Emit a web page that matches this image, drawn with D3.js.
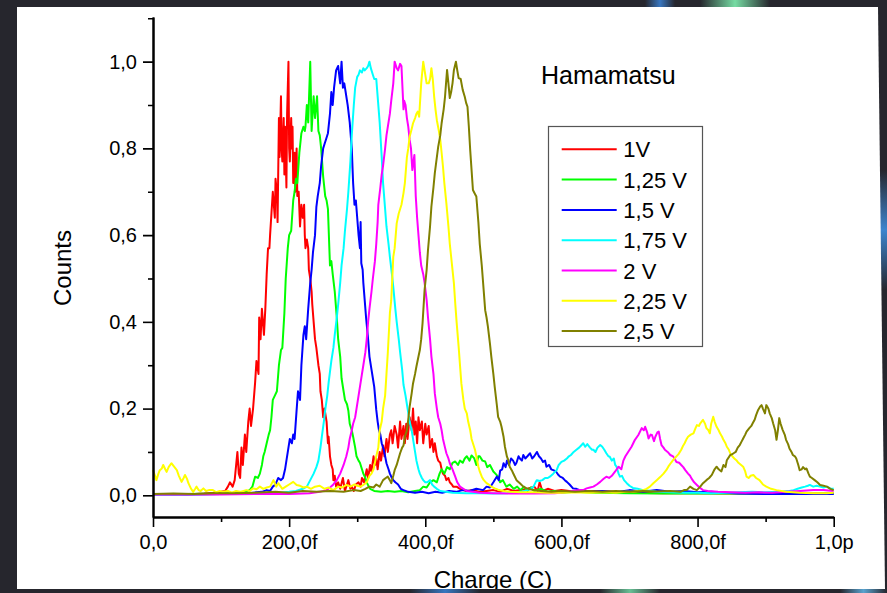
<!DOCTYPE html>
<html><head><meta charset="utf-8">
<script src="https://cdn.jsdelivr.net/npm/d3@7"></script>
<style>html,body{margin:0;padding:0;background:#222228;}svg{display:block;}</style>
</head><body>
<script>
// ---------- DATA ----------
const seriesNames = ["1V", "1,25 V", "1,5 V", "1,75 V", "2 V", "2,25 V", "2,5 V"];
const seriesColors = ["#ff0000", "#00ff00", "#0000ff", "#00ffff", "#ff00ff", "#ffff00", "#808000"];
const xTickValues = [0, 200, 400, 600, 800, 1000];
const xTickLabels = ["0,0", "200,0f", "400,0f", "600,0f", "800,0f", "1,0p"];
const xMinorTicks = [100, 300, 500, 700, 900];
const yTickValues = [0, 0.2, 0.4, 0.6, 0.8, 1.0];
const yTickLabels = ["0,0", "0,2", "0,4", "0,6", "0,8", "1,0"];
const yMinorTicks = [0.1, 0.3, 0.5, 0.7, 0.9, 1.1];

// charge in fC, normalized counts
const data1V = [[0,0.002],[25,0.003],[50,0.002],[75,0.004],[90,0.006],[100,0.008],[106,0.01],[110,0.02],[113,0.03],[117,0.02],[120,0.035],[124,0.10],[126,0.05],[128,0.04],[130,0.11],[132,0.07],[135,0.14],[137,0.10],[140,0.17],[142,0.20],[144,0.16],[147,0.20],[150,0.26],[152,0.31],[155,0.28],[156,0.41],[158,0.36],[160,0.43],[163,0.37],[165,0.43],[167,0.51],[169,0.57],[171,0.57],[172,0.60],[174,0.65],[176,0.70],[178,0.66],[179,0.64],[180,0.73],[182,0.70],[183,0.63],[185,0.87],[186,0.78],[188,0.92],[189,0.80],[190,0.77],[192,0.87],[193,0.74],[194,0.85],[196,0.71],[197,0.88],[199,1.0],[200,0.80],[201,0.77],[203,0.87],[204,0.80],[205,0.85],[206,0.72],[208,0.79],[209,0.70],[211,0.80],[212,0.69],[214,0.70],[216,0.62],[218,0.67],[220,0.64],[222,0.67],[223,0.60],[224,0.57],[226,0.59],[228,0.57],[229,0.52],[231,0.50],[233,0.47],[234,0.44],[236,0.40],[238,0.36],[240,0.34],[243,0.30],[245,0.28],[246,0.24],[248,0.22],[250,0.18],[252,0.20],[255,0.17],[257,0.12],[258,0.135],[260,0.09],[262,0.07],[264,0.06],[265,0.035],[267,0.045],[269,0.02],[272,0.03],[275,0.015],[279,0.04],[282,0.01],[285,0.025],[287,0.035],[290,0.015],[292,0.02],[295,0.01],[298,0.025],[302,0.03],[305,0.02],[307,0.04],[310,0.03],[314,0.06],[316,0.04],[319,0.07],[321,0.055],[324,0.09],[326,0.07],[328,0.085],[330,0.06],[333,0.10],[335,0.08],[338,0.115],[340,0.09],[343,0.13],[345,0.10],[348,0.14],[350,0.15],[352,0.12],[355,0.16],[358,0.14],[360,0.11],[363,0.17],[365,0.13],[368,0.16],[370,0.12],[372,0.165],[374,0.13],[377,0.18],[380,0.15],[382,0.20],[384,0.14],[386,0.17],[388,0.12],[390,0.18],[392,0.15],[395,0.17],[397,0.12],[400,0.165],[402,0.14],[405,0.16],[407,0.11],[410,0.13],[412,0.10],[414,0.12],[417,0.09],[419,0.08],[422,0.075],[424,0.06],[426,0.05],[429,0.045],[431,0.035],[434,0.04],[436,0.03],[439,0.025],[441,0.02],[446,0.02],[451,0.015],[456,0.012],[461,0.01],[470,0.012],[480,0.008],[490,0.01],[500,0.012],[510,0.008],[520,0.015],[530,0.01],[540,0.012],[550,0.015],[560,0.02],[565,0.01],[568,0.03],[572,0.01],[580,0.015],[590,0.01],[600,0.012],[620,0.008],[650,0.01],[680,0.008],[700,0.006],[750,0.005],[800,0.005],[850,0.004],[900,0.005],[950,0.004],[1000,0.004]];

const data125V = [[0,0.003],[50,0.003],[100,0.004],[120,0.006],[135,0.008],[142,0.012],[146,0.02],[150,0.043],[154,0.04],[157,0.05],[160,0.07],[162,0.09],[164,0.10],[167,0.12],[170,0.14],[172,0.15],[174,0.18],[176,0.22],[179,0.23],[182,0.24],[185,0.30],[188,0.335],[190,0.34],[193,0.42],[195,0.50],[198,0.57],[200,0.60],[203,0.61],[206,0.68],[208,0.70],[210,0.73],[212,0.72],[215,0.79],[218,0.835],[221,0.85],[223,0.84],[224,0.85],[226,0.90],[228,0.86],[231,1.0],[233,0.84],[236,0.92],[238,0.87],[241,0.92],[243,0.84],[245,0.83],[247,0.80],[250,0.735],[253,0.69],[255,0.68],[257,0.66],[260,0.53],[262,0.54],[264,0.51],[267,0.47],[270,0.41],[272,0.36],[275,0.32],[277,0.27],[280,0.24],[282,0.22],[285,0.21],[287,0.195],[289,0.165],[292,0.15],[294,0.135],[297,0.11],[299,0.09],[302,0.08],[304,0.075],[307,0.06],[309,0.05],[312,0.04],[314,0.03],[317,0.02],[319,0.015],[325,0.01],[335,0.008],[345,0.01],[355,0.008],[365,0.01],[375,0.007],[385,0.01],[392,0.012],[397,0.02],[402,0.018],[407,0.03],[412,0.035],[417,0.03],[421,0.05],[424,0.06],[428,0.05],[432,0.065],[436,0.06],[440,0.075],[444,0.078],[448,0.07],[451,0.08],[455,0.075],[458,0.085],[461,0.09],[465,0.08],[468,0.092],[472,0.085],[475,0.07],[478,0.09],[480,0.09],[484,0.08],[488,0.078],[491,0.065],[495,0.07],[500,0.055],[503,0.05],[507,0.043],[510,0.03],[514,0.035],[519,0.02],[524,0.025],[530,0.015],[535,0.02],[540,0.012],[545,0.02],[550,0.01],[555,0.018],[560,0.01],[570,0.015],[580,0.008],[590,0.01],[600,0.006],[620,0.008],[650,0.006],[700,0.005],[750,0.004],[800,0.005],[850,0.004],[900,0.004],[950,0.003],[1000,0.004]];

const data15V = [[0,0.002],[50,0.002],[100,0.003],[140,0.005],[160,0.008],[167,0.012],[172,0.01],[176,0.02],[180,0.025],[184,0.04],[188,0.035],[191,0.04],[194,0.06],[196,0.08],[199,0.11],[201,0.13],[204,0.12],[206,0.14],[208,0.13],[211,0.197],[213,0.24],[216,0.22],[218,0.30],[221,0.37],[223,0.39],[225,0.36],[228,0.43],[231,0.49],[233,0.52],[235,0.56],[238,0.60],[240,0.665],[242,0.69],[245,0.72],[247,0.76],[250,0.80],[252,0.81],[254,0.82],[257,0.835],[260,0.88],[262,0.93],[264,0.90],[266,0.94],[269,0.98],[272,0.99],[275,0.95],[277,1.0],[279,0.94],[281,0.95],[283,0.93],[286,0.90],[289,0.86],[292,0.80],[294,0.72],[296,0.67],[298,0.68],[300,0.64],[302,0.60],[304,0.57],[305,0.63],[306,0.535],[308,0.52],[309,0.49],[311,0.45],[313,0.41],[316,0.36],[318,0.32],[321,0.29],[323,0.27],[325,0.25],[328,0.197],[330,0.17],[332,0.15],[334,0.14],[336,0.12],[339,0.105],[341,0.09],[343,0.074],[346,0.06],[348,0.05],[351,0.04],[353,0.035],[356,0.03],[360,0.025],[364,0.015],[368,0.012],[375,0.008],[385,0.006],[395,0.008],[405,0.005],[415,0.008],[425,0.006],[435,0.01],[445,0.008],[455,0.012],[465,0.01],[475,0.015],[485,0.012],[490,0.02],[495,0.018],[500,0.03],[505,0.043],[508,0.035],[510,0.057],[513,0.06],[515,0.074],[518,0.065],[520,0.08],[523,0.07],[526,0.085],[529,0.08],[532,0.07],[534,0.075],[537,0.09],[539,0.085],[542,0.08],[544,0.093],[547,0.085],[550,0.09],[554,0.097],[557,0.085],[560,0.09],[564,0.10],[567,0.09],[570,0.085],[573,0.077],[576,0.08],[578,0.066],[582,0.07],[585,0.06],[588,0.058],[592,0.055],[595,0.048],[598,0.043],[602,0.04],[605,0.035],[608,0.031],[612,0.025],[617,0.016],[622,0.015],[627,0.012],[640,0.008],[660,0.01],[680,0.007],[700,0.012],[720,0.008],[740,0.012],[760,0.008],[780,0.01],[800,0.007],[820,0.008],[840,0.006],[860,0.004],[900,0.003],[950,0.003],[1000,0.003]];

const data175V = [[0,0.002],[50,0.002],[100,0.003],[150,0.004],[180,0.005],[200,0.008],[210,0.01],[220,0.015],[226,0.02],[231,0.035],[236,0.05],[240,0.065],[243,0.08],[246,0.11],[248,0.135],[251,0.17],[253,0.197],[256,0.23],[258,0.26],[260,0.285],[262,0.31],[265,0.34],[267,0.37],[270,0.41],[272,0.44],[275,0.49],[277,0.53],[280,0.57],[282,0.61],[285,0.66],[287,0.70],[290,0.77],[292,0.83],[295,0.90],[297,0.94],[300,0.965],[302,0.97],[304,0.98],[307,0.975],[309,0.985],[311,0.98],[314,0.985],[316,0.99],[318,1.0],[320,0.985],[323,0.97],[325,0.96],[328,0.96],[330,0.92],[333,0.86],[336,0.78],[338,0.72],[340,0.68],[343,0.62],[346,0.58],[348,0.55],[351,0.51],[353,0.48],[356,0.43],[358,0.40],[361,0.36],[363,0.33],[366,0.29],[368,0.255],[371,0.23],[373,0.21],[375,0.19],[377,0.17],[380,0.15],[382,0.13],[385,0.10],[387,0.08],[390,0.06],[392,0.05],[395,0.04],[397,0.035],[400,0.03],[403,0.03],[407,0.035],[410,0.025],[413,0.02],[417,0.015],[422,0.01],[430,0.008],[440,0.006],[460,0.005],[480,0.005],[500,0.004],[520,0.005],[540,0.008],[550,0.012],[555,0.015],[559,0.02],[562,0.03],[564,0.035],[568,0.033],[572,0.035],[576,0.04],[580,0.04],[583,0.043],[588,0.05],[593,0.058],[596,0.07],[600,0.077],[604,0.08],[608,0.085],[611,0.09],[614,0.093],[618,0.1],[622,0.105],[626,0.11],[629,0.115],[632,0.12],[635,0.112],[638,0.118],[642,0.11],[645,0.105],[647,0.105],[650,0.1],[653,0.11],[657,0.116],[660,0.112],[663,0.105],[666,0.097],[669,0.09],[671,0.089],[674,0.08],[677,0.085],[679,0.07],[681,0.066],[684,0.05],[686,0.043],[689,0.045],[692,0.035],[696,0.028],[700,0.022],[705,0.017],[712,0.015],[720,0.012],[740,0.008],[760,0.007],[780,0.006],[800,0.006],[820,0.005],[840,0.006],[860,0.007],[880,0.008],[900,0.007],[920,0.008],[935,0.01],[941,0.012],[947,0.015],[953,0.018],[958,0.02],[962,0.022],[965,0.024],[970,0.02],[975,0.022],[980,0.02],[985,0.018],[990,0.02],[995,0.016],[1000,0.015]];

const data2V = [[0,0.002],[50,0.002],[100,0.002],[150,0.003],[200,0.003],[230,0.005],[245,0.008],[255,0.012],[260,0.018],[265,0.025],[270,0.035],[275,0.05],[280,0.07],[284,0.09],[287,0.11],[289,0.13],[292,0.15],[294,0.165],[297,0.18],[299,0.20],[302,0.23],[304,0.25],[307,0.28],[309,0.30],[312,0.33],[314,0.36],[316,0.40],[318,0.43],[321,0.47],[323,0.50],[326,0.54],[328,0.58],[330,0.63],[331,0.67],[334,0.71],[336,0.74],[338,0.76],[341,0.80],[343,0.83],[345,0.85],[348,0.88],[350,0.91],[353,0.95],[355,1.0],[357,0.99],[358,0.985],[360,0.98],[363,0.995],[365,0.99],[368,0.89],[369,0.91],[371,0.90],[373,0.87],[375,0.85],[377,0.82],[379,0.80],[381,0.75],[384,0.785],[386,0.69],[388,0.64],[390,0.60],[392,0.56],[394,0.53],[397,0.51],[399,0.49],[402,0.45],[404,0.41],[407,0.36],[409,0.32],[412,0.28],[414,0.235],[417,0.20],[419,0.18],[422,0.165],[424,0.15],[426,0.13],[429,0.11],[431,0.097],[434,0.085],[436,0.074],[440,0.06],[444,0.043],[447,0.03],[451,0.02],[456,0.015],[461,0.01],[470,0.008],[480,0.006],[500,0.005],[530,0.004],[560,0.004],[590,0.005],[605,0.007],[615,0.01],[627,0.012],[632,0.012],[637,0.016],[642,0.018],[647,0.02],[652,0.025],[657,0.031],[662,0.038],[666,0.043],[670,0.04],[674,0.045],[679,0.055],[684,0.066],[688,0.06],[691,0.08],[694,0.09],[698,0.10],[703,0.112],[708,0.128],[713,0.139],[718,0.155],[721,0.15],[723,0.158],[726,0.145],[728,0.131],[731,0.14],[733,0.139],[736,0.125],[738,0.135],[741,0.145],[743,0.147],[745,0.13],[747,0.116],[750,0.11],[752,0.105],[756,0.1],[760,0.093],[764,0.09],[766,0.085],[769,0.077],[773,0.075],[776,0.07],[779,0.065],[782,0.058],[786,0.05],[789,0.045],[791,0.039],[795,0.03],[799,0.024],[803,0.018],[808,0.012],[815,0.01],[830,0.008],[850,0.007],[870,0.006],[890,0.007],[910,0.006],[930,0.008],[950,0.01],[970,0.012],[985,0.012],[1000,0.01]];

const data225V = [[0,0.058],[3,0.045],[5,0.035],[8,0.05],[10,0.058],[13,0.062],[15,0.07],[18,0.06],[20,0.054],[23,0.065],[27,0.074],[31,0.066],[35,0.058],[38,0.045],[42,0.031],[45,0.04],[47,0.047],[50,0.038],[52,0.028],[56,0.015],[59,0.008],[62,0.015],[64,0.02],[67,0.012],[70,0.01],[74,0.016],[78,0.01],[82,0.012],[88,0.012],[93,0.007],[98,0.01],[103,0.008],[110,0.01],[116,0.006],[122,0.01],[128,0.008],[133,0.01],[137,0.012],[142,0.01],[147,0.016],[152,0.014],[157,0.02],[162,0.015],[167,0.018],[172,0.02],[177,0.035],[181,0.02],[184,0.028],[190,0.015],[195,0.02],[200,0.025],[206,0.031],[211,0.024],[216,0.022],[221,0.018],[226,0.02],[232,0.015],[238,0.02],[245,0.022],[252,0.015],[258,0.018],[265,0.012],[272,0.02],[278,0.018],[284,0.024],[290,0.02],[296,0.025],[300,0.022],[305,0.02],[310,0.025],[314,0.03],[318,0.045],[321,0.05],[324,0.06],[328,0.09],[331,0.11],[333,0.15],[336,0.17],[338,0.2],[341,0.23],[343,0.28],[345,0.33],[348,0.42],[350,0.45],[353,0.55],[355,0.57],[358,0.627],[361,0.65],[365,0.67],[368,0.697],[370,0.72],[373,0.78],[375,0.80],[377,0.827],[380,0.845],[382,0.858],[385,0.87],[387,0.88],[389,0.885],[391,0.873],[394,0.95],[397,1.0],[399,0.98],[402,0.95],[405,0.95],[407,0.96],[409,0.985],[411,0.96],[413,0.92],[415,0.89],[417,0.865],[420,0.84],[422,0.82],[424,0.79],[426,0.758],[428,0.72],[431,0.673],[434,0.62],[436,0.58],[439,0.535],[442,0.49],[444,0.443],[446,0.40],[449,0.343],[451,0.30],[453,0.258],[456,0.22],[458,0.20],[461,0.189],[463,0.17],[466,0.15],[468,0.13],[470,0.12],[473,0.105],[475,0.09],[478,0.066],[480,0.055],[483,0.043],[486,0.035],[490,0.028],[494,0.024],[497,0.02],[502,0.016],[507,0.013],[515,0.01],[525,0.008],[540,0.007],[560,0.007],[580,0.006],[600,0.006],[620,0.007],[640,0.006],[660,0.007],[680,0.006],[695,0.008],[705,0.008],[712,0.01],[720,0.012],[725,0.015],[730,0.02],[735,0.028],[740,0.035],[745,0.042],[750,0.05],[754,0.058],[757,0.066],[761,0.075],[764,0.081],[768,0.088],[772,0.095],[776,0.105],[779,0.115],[781,0.12],[784,0.13],[786,0.135],[790,0.14],[794,0.143],[797,0.155],[799,0.162],[802,0.16],[804,0.166],[806,0.17],[808,0.174],[811,0.165],[813,0.155],[816,0.15],[818,0.143],[820,0.165],[823,0.181],[825,0.17],[828,0.158],[831,0.15],[833,0.143],[836,0.135],[838,0.128],[841,0.12],[843,0.112],[846,0.105],[848,0.097],[851,0.09],[854,0.085],[857,0.081],[860,0.075],[864,0.07],[867,0.066],[870,0.055],[872,0.043],[875,0.04],[878,0.045],[882,0.047],[886,0.04],[891,0.035],[896,0.025],[901,0.02],[908,0.015],[916,0.012],[930,0.008],[950,0.006],[970,0.005],[990,0.005],[1000,0.006]];

const data25V = [[0,0.003],[30,0.004],[60,0.003],[90,0.005],[120,0.005],[150,0.006],[180,0.008],[200,0.006],[220,0.01],[240,0.008],[260,0.01],[280,0.008],[295,0.012],[305,0.01],[312,0.015],[318,0.02],[324,0.018],[328,0.025],[333,0.02],[338,0.035],[342,0.04],[345,0.043],[348,0.035],[350,0.028],[353,0.045],[355,0.058],[358,0.07],[360,0.081],[363,0.097],[366,0.11],[368,0.115],[370,0.135],[373,0.15],[375,0.175],[377,0.204],[380,0.235],[382,0.258],[385,0.28],[387,0.297],[390,0.32],[392,0.335],[394,0.36],[396,0.397],[399,0.474],[402,0.52],[404,0.566],[407,0.62],[409,0.666],[412,0.71],[414,0.743],[417,0.78],[419,0.804],[422,0.83],[424,0.858],[427,0.89],[429,0.919],[432,0.981],[434,0.95],[436,0.916],[438,0.93],[440,0.95],[442,0.98],[445,1.0],[447,0.98],[449,0.962],[452,0.96],[455,0.935],[458,0.919],[460,0.905],[462,0.896],[464,0.85],[466,0.796],[468,0.75],[470,0.704],[473,0.695],[475,0.689],[478,0.63],[480,0.58],[483,0.53],[485,0.489],[488,0.427],[490,0.41],[492,0.389],[495,0.35],[497,0.32],[500,0.28],[502,0.25],[505,0.21],[507,0.181],[510,0.17],[512,0.158],[515,0.135],[517,0.112],[520,0.089],[522,0.081],[524,0.066],[527,0.058],[530,0.048],[534,0.035],[539,0.028],[544,0.02],[549,0.016],[554,0.014],[559,0.012],[570,0.01],[585,0.008],[600,0.01],[620,0.008],[640,0.01],[660,0.008],[680,0.01],[700,0.008],[720,0.01],[740,0.009],[760,0.01],[775,0.008],[780,0.012],[784,0.012],[789,0.02],[794,0.015],[799,0.012],[804,0.02],[808,0.028],[813,0.035],[817,0.04],[821,0.047],[825,0.06],[828,0.066],[831,0.06],[835,0.055],[838,0.07],[841,0.065],[843,0.081],[846,0.088],[848,0.093],[851,0.095],[853,0.097],[856,0.1],[859,0.11],[862,0.116],[865,0.125],[867,0.131],[870,0.14],[872,0.147],[876,0.155],[879,0.16],[881,0.166],[884,0.175],[886,0.185],[889,0.197],[892,0.205],[894,0.208],[896,0.2],[899,0.189],[901,0.208],[904,0.2],[906,0.189],[909,0.178],[911,0.166],[914,0.15],[916,0.128],[918,0.15],[920,0.178],[922,0.165],[925,0.151],[928,0.14],[930,0.128],[933,0.118],[935,0.108],[938,0.1],[940,0.093],[943,0.09],[945,0.085],[948,0.07],[950,0.058],[953,0.06],[955,0.065],[958,0.06],[960,0.062],[963,0.05],[965,0.043],[968,0.04],[972,0.035],[976,0.03],[980,0.024],[985,0.022],[990,0.02],[995,0.015],[1000,0.012]];

const seriesData = [data1V, data125V, data15V, data175V, data2V, data225V, data25V];

// ---------- DRAW ----------
const W = 887, H = 593;
const FONT = "'Liberation Sans', Arial, Helvetica, sans-serif";
const svg = d3.select("body").append("svg").attr("width", W).attr("height", H);
const defs = svg.append("defs");

// dark slide background with light streaks
svg.append("rect").attr("width", W).attr("height", H).attr("fill", "#26262d");
function streak(id, x1, y1, x2, y2, color, rx, ry, rw, rh) {
  const g = defs.append("linearGradient").attr("id", id)
    .attr("x1", x1).attr("y1", y1).attr("x2", x2).attr("y2", y2);
  g.append("stop").attr("offset", "0%").attr("stop-color", color).attr("stop-opacity", 0);
  g.append("stop").attr("offset", "50%").attr("stop-color", color).attr("stop-opacity", 0.9);
  g.append("stop").attr("offset", "100%").attr("stop-color", color).attr("stop-opacity", 0);
  svg.append("rect").attr("x", rx).attr("y", ry).attr("width", rw).attr("height", rh).attr("fill", `url(#${id})`);
}
streak("s1", "0", "0", "1", "0", "#7ff0b0", 700, 0, 70, 7);
streak("s2", "0", "0", "1", "0", "#3a7fd0", 645, 0, 30, 7);
streak("s3", "0", "0", "0", "1", "#3f8fe0", 878, 170, 9, 120);
streak("s4", "0", "0", "1", "0", "#3a7fd0", 410, 589, 70, 4);
streak("s5", "0", "0", "1", "0", "#5fb0e0", 840, 589, 47, 4);
streak("s6", "0", "0", "1", "0", "#6fd0a0", 600, 589, 60, 4);

// white panel
const panel = "M17,7 L878,7 L885,589 L17,589 Z";
svg.append("path").attr("d", panel).attr("fill", "#ffffff");
defs.append("clipPath").attr("id", "panelClip").append("path").attr("d", panel);
const root = svg.append("g").attr("clip-path", "url(#panelClip)");

const x = d3.scaleLinear().domain([0, 1000]).range([153, 833.7]);
const y = d3.scaleLinear().domain([-0.05, 1.103]).range([517, 17]);

// series
const line = d3.line().x(d => x(d[0])).y(d => y(d[1]));
root.append("g").selectAll("path").data(seriesData).join("path")
  .attr("d", line)
  .attr("fill", "none")
  .attr("stroke", (d, i) => seriesColors[i])
  .attr("stroke-width", 2)
  .attr("stroke-linejoin", "round");

// axes
const yAxis = root.append("g").attr("transform", `translate(${x(0)},0)`)
  .call(d3.axisLeft(y).tickValues(yTickValues).tickSize(10).tickSizeOuter(0).tickPadding(6)
    .tickFormat((d, i) => yTickLabels[i]));
const yMinor = root.append("g").attr("transform", `translate(${x(0)},0)`)
  .call(d3.axisLeft(y).tickValues(yMinorTicks).tickSize(5).tickSizeOuter(0).tickFormat(""));
const xAxis = root.append("g").attr("transform", `translate(0,${y(-0.05)})`)
  .call(d3.axisBottom(x).tickValues(xTickValues).tickSize(10).tickSizeOuter(0).tickPadding(8)
    .tickFormat((d, i) => xTickLabels[i]));
const xMinor = root.append("g").attr("transform", `translate(0,${y(-0.05)})`)
  .call(d3.axisBottom(x).tickValues(xMinorTicks).tickSize(5).tickSizeOuter(0).tickFormat(""));
[yAxis, yMinor, xAxis, xMinor].forEach(g => {
  g.select(".domain").attr("stroke", "#000").attr("stroke-width", 2);
  g.selectAll(".tick line").attr("stroke", "#000").attr("stroke-width", 1.6);
  g.selectAll(".tick text").attr("fill", "#000").attr("font-size", 20).attr("font-family", FONT);
});

// axis titles
root.append("text").attr("transform", "translate(71,268) rotate(-90)")
  .attr("text-anchor", "middle").attr("font-family", FONT).attr("font-size", 24).attr("fill", "#000")
  .text("Counts");
root.append("text").attr("x", 493).attr("y", 588)
  .attr("text-anchor", "middle").attr("font-family", FONT).attr("font-size", 24).attr("fill", "#000")
  .text("Charge (C)");

// annotation
root.append("text").attr("x", 541).attr("y", 84)
  .attr("font-family", FONT).attr("font-size", 25).attr("fill", "#000").text("Hamamatsu");

// legend
const legend = root.append("g");
legend.append("rect").attr("x", 548.5).attr("y", 126.5).attr("width", 154).attr("height", 220)
  .attr("fill", "#fff").attr("stroke", "#555").attr("stroke-width", 1.2);
const items = legend.selectAll("g.item").data(seriesNames).join("g").attr("class", "item")
  .attr("transform", (d, i) => `translate(0,${149.3 + i * 30.3})`);
items.append("line").attr("x1", 561.7).attr("x2", 616.7).attr("y1", 0).attr("y2", 0)
  .attr("stroke", (d, i) => seriesColors[i]).attr("stroke-width", 2);
items.append("text").attr("x", 623.3).attr("y", 8)
  .attr("font-family", FONT).attr("font-size", 22).attr("fill", "#000").text(d => d);
</script>
</body></html>
